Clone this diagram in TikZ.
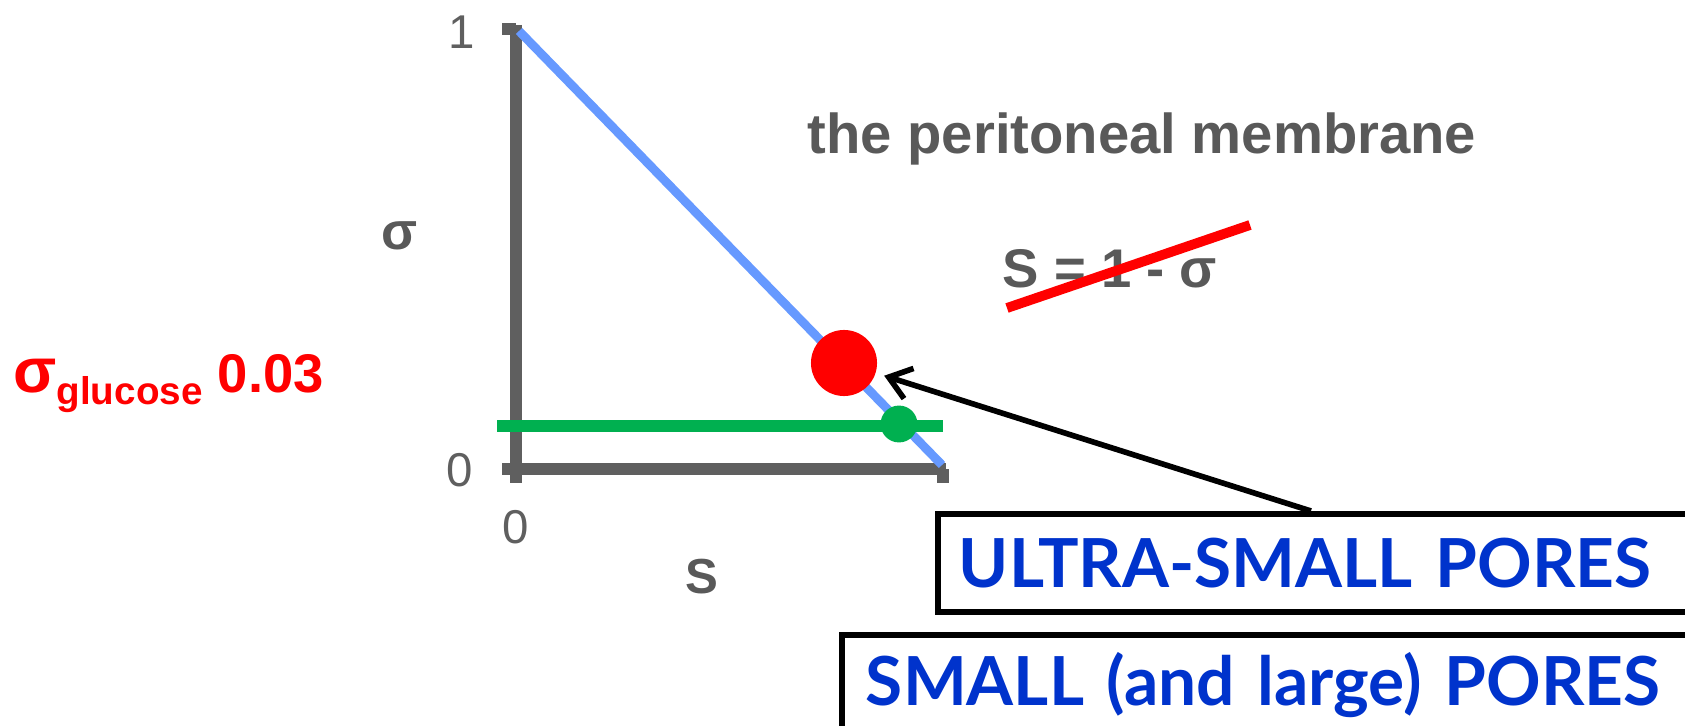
\documentclass[tikz,border=0pt]{standalone}
\usepackage{fontspec}
\setmainfont{Liberation Sans}
\newfontfamily\poresfont{Lato}
\usepackage{xcolor}
\usetikzlibrary{arrows.meta, positioning}

\definecolor{axisgray}{HTML}{5F5F5F}
\definecolor{textgray}{HTML}{595959}
\definecolor{lineblue}{HTML}{6699FF}
\definecolor{dotgreen}{HTML}{00B050}
\definecolor{poreblue}{HTML}{0033CC}

\begin{document}
\begin{tikzpicture}[x=0.02cm, y=-0.02cm,
    axis/.style={draw=axisgray, line width=6.5pt},
    ticklbl/.style={text=axisgray, font=\fontsize{27}{27}\selectfont},
    lbl/.style={text=textgray, font=\fontsize{31}{34}\selectfont\bfseries},
    dot/.style={circle, inner sep=0pt},
    box/.style={rectangle, draw=black, line width=3.2pt, fill=white, anchor=north west,
                align=left, text=poreblue, font=\poresfont\fontsize{38.5}{40}\selectfont\bfseries},
    arr/.style={-{Straight Barb[length=12pt, width=18pt]}, line width=3.2pt},
]
\clip (0,0) rectangle (1685,726);

% axes
\draw[axis] (516,25) -- (516,483);
\draw[axis] (502,29) -- (516,29);
\draw[axis] (502,469) -- (946,469);
\draw[axis] (943,469) -- (943,483);

\node[ticklbl] (yone)  at (462,32)  {1};
\node[ticklbl] (yzero) at (460,470) {0};
\node[ticklbl] (xzero) at (516,527) {0};
\node[lbl, font=\fontsize{30}{32}\selectfont\bfseries] (ylab) at (400,236) {σ};
\node[lbl, font=\fontsize{28}{32}\selectfont\bfseries] (xlab) at (702,577) {S};

% S = 1 - sigma line and glucose level
\draw[lineblue, line width=5pt] (519,31) -- (942,465);
\draw[dotgreen, line width=6.4pt] (497,426) -- (943,426);
\node[dot, fill=red, minimum size=37.6pt] (reddot) at (844,363) {};
\node[dot, fill=dotgreen, minimum size=21pt] (greendot) at (899,424) {};

\node[anchor=base west, inner sep=0pt, text=red, font=\fontsize{31}{34}\selectfont\bfseries] (sigmaglu) at (13,393)
    {{\fontsize{36}{36}\selectfont σ}\raisebox{-6.8pt}{\fontsize{22}{24}\selectfont glucose} 0.03};

\node[lbl, font=\fontsize{32}{34}\selectfont\bfseries] (title) at (1142,139) {the peritoneal membrane};
\node[lbl] (relation) at (1110,269) {S = 1 - σ};
\draw[red, line width=5.6pt] (1007,308) -- (1250,225);

% pore boxes
\node[box, text width=411pt, inner xsep=12pt, minimum height=55.8pt] (ultra) at (935,511)
    {ULTRA-SMALL PORES};
\node[box, text width=462pt, inner xsep=13.7pt, minimum height=57pt] (small) at (839,632)
    {SMALL (and large) PORES};

\coordinate (arrtail) at (1311,511);
\draw[arr, shorten >=5pt] (arrtail) -- (reddot);
\end{tikzpicture}
\end{document}
